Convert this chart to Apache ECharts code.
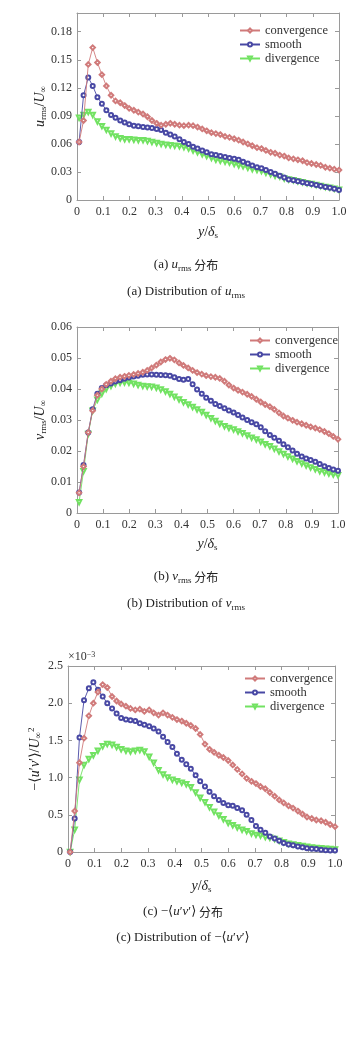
<!DOCTYPE html>
<html><head><meta charset="utf-8">
<script src="https://cdn.jsdelivr.net/npm/echarts@6/dist/echarts.min.js"></script>
<style>html,body{margin:0;padding:0;background:#fff}#c{width:364px;height:1049px}</style>
</head><body><div id="c"></div>
<script>
const xs = [0.008,0.025,0.043,0.060,0.078,0.095,0.112,0.130,0.147,0.165,0.182,0.199,0.217,0.234,0.252,0.269,0.286,0.304,0.321,0.339,0.356,0.373,0.391,0.408,0.426,0.443,0.460,0.478,0.495,0.513,0.530,0.547,0.565,0.582,0.600,0.617,0.634,0.652,0.669,0.687,0.704,0.721,0.739,0.756,0.774,0.791,0.808,0.826,0.843,0.861,0.878,0.895,0.913,0.930,0.948,0.965,0.982,1.000];
const seriesNames = ['convergence','smooth','divergence'];
const uConv = [0.062,0.085,0.145,0.163,0.147,0.134,0.122,0.112,0.106,0.104,0.101,0.098,0.096,0.094,0.092,0.089,0.085,0.082,0.080,0.081,0.082,0.081,0.080,0.0795,0.080,0.0795,0.078,0.076,0.074,0.072,0.071,0.070,0.068,0.067,0.0655,0.064,0.062,0.060,0.058,0.056,0.055,0.053,0.051,0.050,0.048,0.047,0.045,0.044,0.043,0.042,0.040,0.039,0.038,0.037,0.035,0.034,0.033,0.032];
const uSmooth = [0.062,0.112,0.131,0.122,0.110,0.103,0.096,0.091,0.088,0.085,0.083,0.081,0.0795,0.079,0.078,0.0775,0.077,0.076,0.075,0.072,0.070,0.068,0.065,0.062,0.060,0.057,0.055,0.053,0.051,0.049,0.048,0.047,0.046,0.045,0.044,0.043,0.041,0.039,0.037,0.035,0.034,0.032,0.030,0.028,0.026,0.024,0.022,0.021,0.020,0.019,0.018,0.017,0.016,0.015,0.014,0.013,0.012,0.0107];
const uDiv = [0.088,0.091,0.094,0.091,0.084,0.079,0.075,0.071,0.068,0.066,0.065,0.065,0.0645,0.064,0.064,0.063,0.062,0.061,0.060,0.059,0.0585,0.058,0.0575,0.0565,0.055,0.053,0.051,0.049,0.047,0.045,0.043,0.042,0.041,0.040,0.0385,0.037,0.036,0.0345,0.033,0.032,0.031,0.029,0.0275,0.026,0.025,0.023,0.022,0.021,0.020,0.019,0.018,0.017,0.016,0.015,0.014,0.013,0.012,0.011];
const vConv = [0.0065,0.015,0.026,0.033,0.038,0.040,0.0415,0.0425,0.0433,0.0438,0.0441,0.0444,0.0447,0.045,0.0454,0.046,0.0468,0.0477,0.0487,0.0495,0.0499,0.0494,0.0484,0.0476,0.0468,0.046,0.0453,0.0448,0.0443,0.044,0.0438,0.0434,0.0425,0.0413,0.0403,0.0396,0.039,0.0383,0.0376,0.0367,0.0358,0.035,0.0343,0.0334,0.0323,0.0313,0.0306,0.0299,0.0293,0.0288,0.0283,0.0278,0.0274,0.0269,0.0263,0.0256,0.0247,0.0238];
const vSmooth = [0.0066,0.0155,0.026,0.0335,0.0385,0.0403,0.0412,0.0418,0.0424,0.0428,0.0433,0.0437,0.044,0.0443,0.0446,0.0447,0.0447,0.0446,0.0445,0.0444,0.0443,0.0438,0.0432,0.043,0.0432,0.0415,0.0398,0.0385,0.0372,0.0362,0.0352,0.0345,0.0338,0.0331,0.0324,0.0316,0.0308,0.030,0.0293,0.0286,0.0277,0.0264,0.0252,0.0243,0.0233,0.0222,0.0212,0.0202,0.0191,0.0182,0.0176,0.0171,0.0165,0.0158,0.0151,0.0145,0.014,0.0136];
const vDiv = [0.0035,0.0135,0.0255,0.033,0.0365,0.0385,0.040,0.041,0.0417,0.042,0.0421,0.042,0.0417,0.0413,0.041,0.0408,0.0407,0.0404,0.0398,0.0392,0.0384,0.0375,0.0366,0.0357,0.035,0.0342,0.0334,0.0326,0.0316,0.0306,0.0297,0.0288,0.028,0.0274,0.0269,0.0263,0.0257,0.025,0.0243,0.0237,0.023,0.0222,0.0215,0.0207,0.0198,0.019,0.0182,0.0175,0.0167,0.016,0.0153,0.0147,0.0141,0.0135,0.0131,0.0127,0.0124,0.0122];
// -<u'v'>/U^2 in units of 1e-3
const cConv = [0,0.55,1.2,1.53,1.83,2.0,2.15,2.25,2.21,2.09,2.03,1.99,1.96,1.93,1.91,1.92,1.89,1.91,1.87,1.84,1.87,1.84,1.81,1.78,1.76,1.73,1.70,1.66,1.58,1.45,1.38,1.34,1.30,1.27,1.23,1.17,1.11,1.05,0.99,0.95,0.92,0.88,0.85,0.80,0.75,0.70,0.66,0.62,0.59,0.55,0.51,0.47,0.45,0.43,0.42,0.40,0.37,0.34];
const cSmooth = [0,0.45,1.54,2.04,2.2,2.28,2.18,2.09,2.0,1.93,1.86,1.80,1.78,1.77,1.76,1.73,1.71,1.69,1.66,1.62,1.55,1.48,1.41,1.32,1.24,1.18,1.12,1.03,0.95,0.88,0.81,0.75,0.70,0.66,0.63,0.62,0.59,0.56,0.50,0.43,0.35,0.30,0.26,0.21,0.18,0.15,0.12,0.10,0.09,0.075,0.065,0.05,0.045,0.04,0.03,0.025,0.02,0.02];
const cDiv = [0,0.3,0.97,1.17,1.25,1.30,1.36,1.42,1.45,1.44,1.41,1.38,1.36,1.35,1.36,1.37,1.35,1.28,1.20,1.10,1.04,1.0,0.97,0.95,0.93,0.91,0.87,0.80,0.73,0.67,0.60,0.54,0.49,0.44,0.39,0.36,0.33,0.30,0.28,0.25,0.23,0.22,0.20,0.19,0.175,0.15,0.13,0.11,0.10,0.09,0.08,0.07,0.06,0.055,0.05,0.045,0.04,0.035];
const xTicks = {min:0, max:1, interval:0.1};
const yTicksA = {min:0, max:0.2, interval:0.03};
const yTicksB = {min:0, max:0.06, interval:0.01};
const yTicksC = {min:0, max:2.5, interval:0.5};

const SERIF = '"Liberation Serif","DejaVu Serif",serif';
const CJK = '"Noto Sans CJK SC",sans-serif';
const colors = ['#d07a7a','#4848a4','#72e262'];
const symbols = ['emptyDiamond','emptyCircle','emptyTriangle'];
const symRot = [0,0,180];
const symSize = [4.5,4,4.5];
const axisGray = '#9a9a9a';

const grids = [
  {left:77, right:25, top:13, height:187},
  {left:77, right:26, top:327, height:186},
  {left:68, right:29, top:666, height:186}
];
const richBase = {
  i:{fontFamily:SERIF, fontStyle:'italic', fontSize:14, color:'#222', lineHeight:16, verticalAlign:'middle'},
  n:{fontFamily:SERIF, fontSize:14, color:'#222', lineHeight:16, verticalAlign:'middle'},
  s:{fontFamily:SERIF, fontSize:9, color:'#222', lineHeight:8, verticalAlign:'bottom'},
  p:{fontFamily:SERIF, fontSize:9, color:'#222', lineHeight:8, verticalAlign:'top'},
  c:{fontFamily:CJK, fontSize:12, color:'#222', lineHeight:16, verticalAlign:'middle'}
};
const yNames = [
  '{i|u}{s|rms}{n|/}{i|U}{s|∞}',
  '{i|v}{s|rms}{n|/}{i|U}{s|∞}',
  '{n|−⟨}{i|u}{n|′}{i|v}{n|′⟩/}{i|U}{s|∞}{p|2}'
];
const xName = '{i|y}{n|/}{i|δ}{s|s}';
const yT = [yTicksA, yTicksB, yTicksC];
const yFmt = [v => v===0?'0':v.toFixed(2), v => v===0?'0':v.toFixed(2), v => v===0?'0':v.toFixed(1)];
const yNameGap = [29, 29, 25];
const xNameGap = [24, 23, 26];

const xAxes = [], yAxes = [], series = [], legends = [];
const data = [[uConv,uSmooth,uDiv],[vConv,vSmooth,vDiv],[cConv,cSmooth,cDiv]];
const legendPos = [{left:234, top:19},{left:244, top:329},{left:239, top:667}];
for (let g=0; g<3; g++) {
  const tick = {show:true, inside:true, length:4, lineStyle:{color:axisGray, width:1}};
  const line = {show:true, onZero:false, lineStyle:{color:axisGray, width:1}};
  xAxes.push({type:'value', gridIndex:g, position:'bottom', ...xTicks, axisLine:line, axisTick:tick, splitLine:{show:false},
    axisLabel:{fontFamily:SERIF, fontSize:12, color:'#333', margin:6, formatter:v=>v===0?'0':v.toFixed(1)},
    name:xName, nameLocation:'middle', nameGap:xNameGap[g], nameMoveOverlap:false, nameTextStyle:{rich:richBase}});
  xAxes.push({type:'value', gridIndex:g, position:'top', ...xTicks, axisLine:line, axisTick:tick, splitLine:{show:false}, axisLabel:{show:false}});
  yAxes.push({type:'value', gridIndex:g, position:'left', ...yT[g], axisLine:line, axisTick:tick, splitLine:{show:false},
    axisLabel:{fontFamily:SERIF, fontSize:12, color:'#333', margin:5, showMaxLabel: g!==0, formatter:yFmt[g]},
    name:yNames[g], nameLocation:'middle', nameRotate:90, nameGap:yNameGap[g], nameMoveOverlap:false, nameTextStyle:{rich:richBase}});
  yAxes.push({type:'value', gridIndex:g, position:'right', ...yT[g], axisLine:line, axisTick:tick, splitLine:{show:false}, axisLabel:{show:false}});
  for (let s=0; s<3; s++) {
    series.push({type:'line', name:seriesNames[s], xAxisIndex:2*g, yAxisIndex:2*g,
      data: xs.map((x,i)=>[x, data[g][s][i]]),
      symbol:symbols[s], symbolSize:symSize[s], symbolRotate:symRot[s], showSymbol:true,
      lineStyle:{color:colors[s], width:0.9}, itemStyle:{color:colors[s], borderColor:colors[s], borderWidth:0.9},
      emphasis:{disabled:true}, animation:false, z: 5-s});
  }
  legends.push({...legendPos[g], orient:'vertical', itemWidth:20, itemHeight:5, itemGap:1,
    textStyle:{fontFamily:SERIF, fontSize:12.5, color:'#333', lineHeight:12}, data:seriesNames, selectedMode:false});
}

function richCap(){
  return {
    n:{fontFamily:SERIF, fontSize:13, fill:'#222', lineHeight:16, verticalAlign:'middle'},
    i:{fontFamily:SERIF, fontStyle:'italic', fontSize:13, fill:'#222', lineHeight:16, verticalAlign:'middle'},
    s:{fontFamily:SERIF, fontSize:9, fill:'#222', lineHeight:8, verticalAlign:'bottom'},
    c:{fontFamily:CJK, fontSize:12, fill:'#222', lineHeight:16, verticalAlign:'middle'}
  };
}

const chart = echarts.init(document.getElementById('c'), null, {renderer:'canvas'});
chart.setOption({
  animation:false,
  backgroundColor:'#fff',
  grid: grids,
  xAxis: xAxes,
  yAxis: yAxes,
  legend: legends,
  series: series,
  graphic: [
    {type:'text', x:68, y:657, style:{text:'×10{p|−3}', fontFamily:SERIF, fontSize:12, fill:'#333', verticalAlign:'middle', rich:{p:{fontFamily:SERIF, fontSize:8, fill:'#333', verticalAlign:'top', lineHeight:8}}}},
    {type:'text', x:186, y:265, style:{text:'{n|(a) }{i|u}{s|rms}{c| 分布}', align:'center', verticalAlign:'middle', rich:richCap()}},
    {type:'text', x:186, y:292, style:{text:'{n|(a) Distribution of }{i|u}{s|rms}', align:'center', verticalAlign:'middle', rich:richCap()}},
    {type:'text', x:186, y:577, style:{text:'{n|(b) }{i|v}{s|rms}{c| 分布}', align:'center', verticalAlign:'middle', rich:richCap()}},
    {type:'text', x:186, y:604, style:{text:'{n|(b) Distribution of }{i|v}{s|rms}', align:'center', verticalAlign:'middle', rich:richCap()}},
    {type:'text', x:183, y:912, style:{text:'{n|(c) −⟨}{i|u}{n|′}{i|v}{n|′⟩}{c| 分布}', align:'center', verticalAlign:'middle', rich:richCap()}},
    {type:'text', x:183, y:938, style:{text:'{n|(c) Distribution of −⟨}{i|u}{n|′}{i|v}{n|′⟩}', align:'center', verticalAlign:'middle', rich:richCap()}}
  ]
});
</script></body></html>
